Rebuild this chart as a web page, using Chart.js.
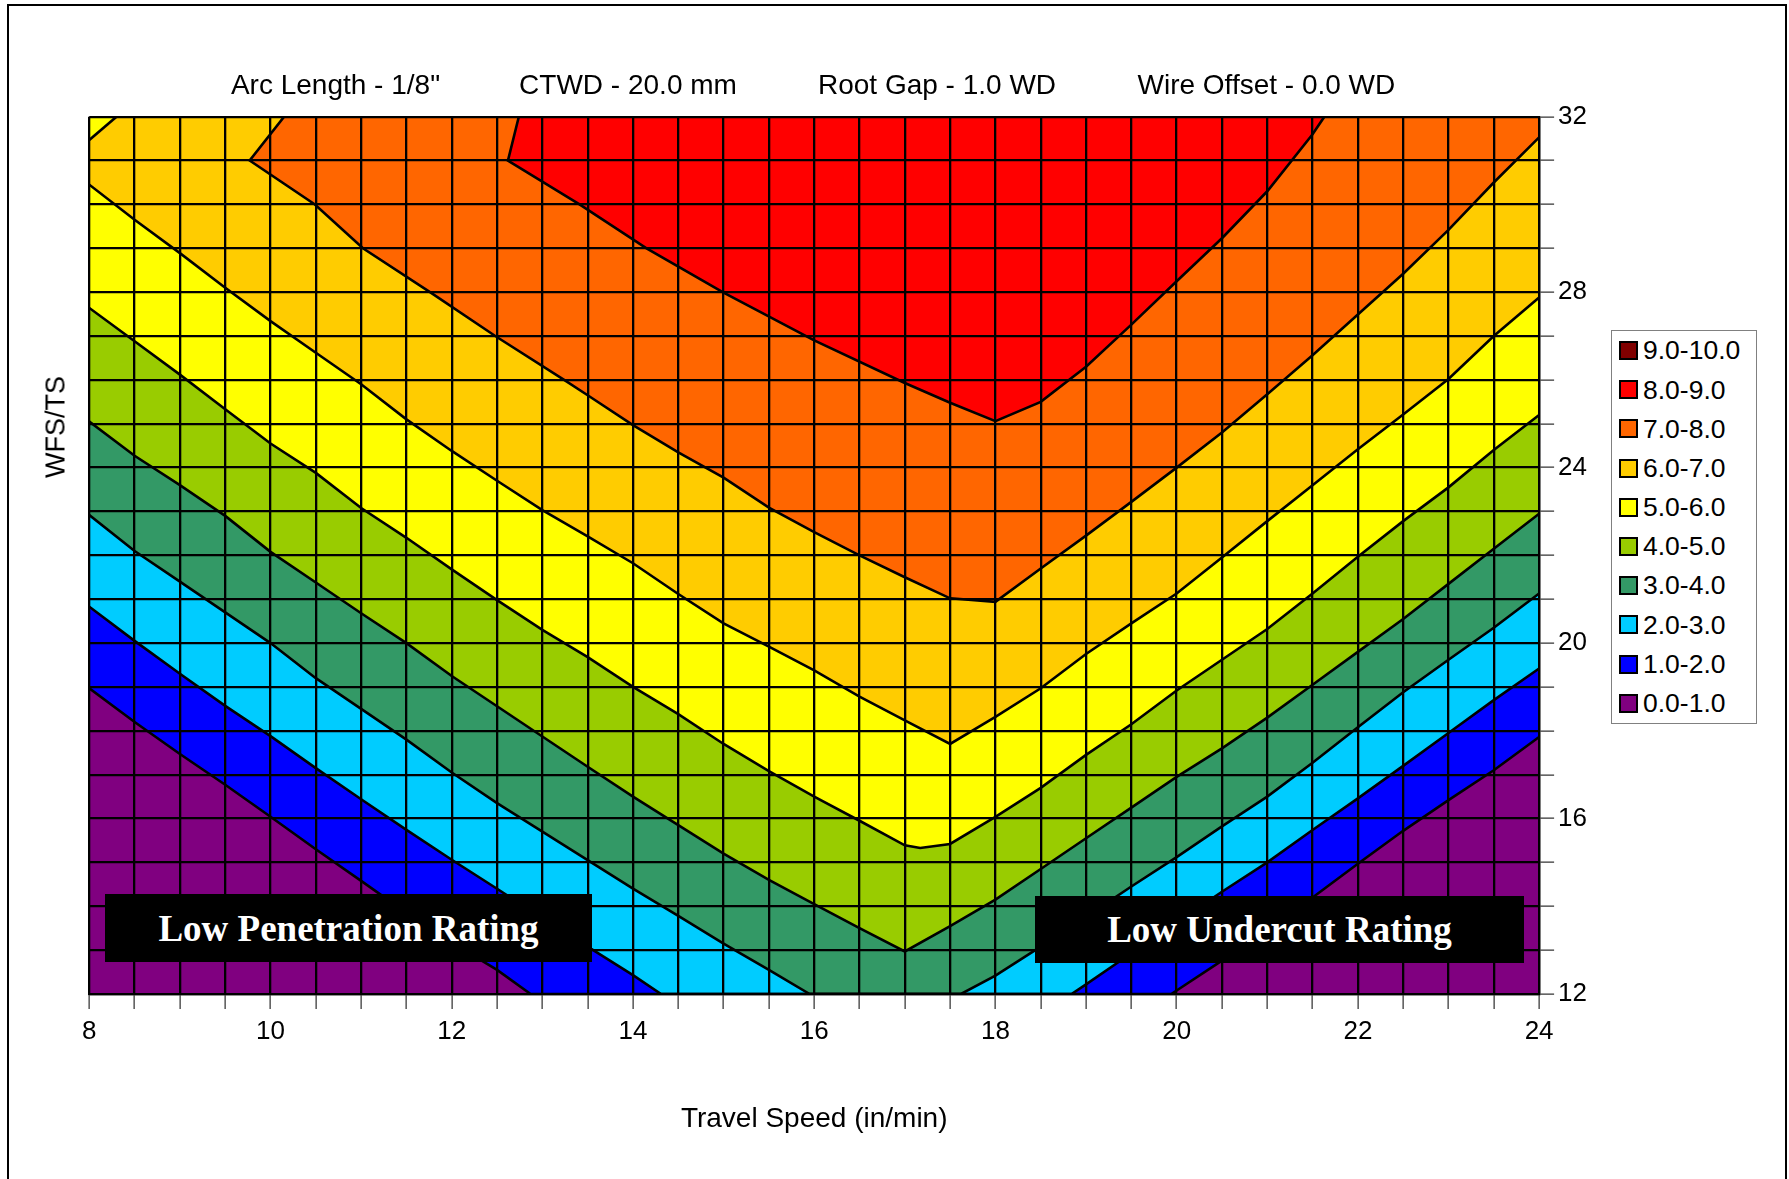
<!DOCTYPE html>
<html>
<head>
<meta charset="utf-8">
<title>Rating contour – Travel Speed vs WFS/TS</title>
<script src="https://cdn.jsdelivr.net/npm/chart.js@4.4.1/dist/chart.umd.min.js"></script>
<style>
  html, body { margin: 0; padding: 0; background: #fff; }
  body { width: 1789px; height: 1179px; position: relative; overflow: hidden;
         font-family: "Liberation Sans", Arial, sans-serif; color: #000; }
  #frame { position: absolute; left: 7px; top: 4px; width: 1780px; height: 1300px;
           border: 2px solid #000; box-sizing: border-box; }
  #chart { position: absolute; left: 0; top: 0; }
  .hdr { position: absolute; top: 84.7px; transform: translate(-50%, -50%);
         font-size: 28px; line-height: 1; white-space: nowrap; }
  #ytitle { position: absolute; left: 56px; top: 427px; font-size: 27px; line-height: 1;
            white-space: nowrap; transform: translate(-50%, -50%) rotate(-90deg); }
  #legend { position: absolute; left: 1611px; top: 330px; width: 146px;
            border: 1px solid #808080; box-sizing: border-box; background: #fff; }
  .lrow { height: 39.2px; display: flex; align-items: center; }
  .lsw { width: 15px; height: 15px; border: 2px solid #000; margin-left: 7px; margin-right: 5px; flex: none; }
  .ltx { font-size: 26.5px; line-height: 1; white-space: nowrap; }
  .note { position: absolute; background: #000; color: #fff; display: flex; align-items: center;
          justify-content: center; font-family: "Liberation Serif", "Times New Roman", serif;
          font-weight: bold; font-size: 37px; line-height: 1; white-space: nowrap; }
</style>
</head>
<body>
<div id="frame"></div>
<canvas id="chart" width="1789" height="1179"></canvas>
<div class="hdr" style="left:335.5px">Arc Length - 1/8"</div>
<div class="hdr" style="left:628px">CTWD - 20.0 mm</div>
<div class="hdr" style="left:937px">Root Gap - 1.0 WD</div>
<div class="hdr" style="left:1266.4px">Wire Offset - 0.0 WD</div>
<div id="ytitle">WFS/TS</div>
<div id="legend"></div>
<div class="note" style="left:105px;top:894px;width:487px;height:68px;">Low Penetration Rating</div>
<div class="note" style="left:1035px;top:896px;width:489px;height:67px;">Low Undercut Rating</div>

<script>
// Axis extents and labelled ticks
const speedMin = 8, speedMax = 24, speedGridStep = 0.5;
const wfsMin = 12, wfsMax = 32, wfsGridStep = 1;
const speedTickLabels = [8, 10, 12, 14, 16, 18, 20, 22, 24];
const wfsTickLabels = [12, 16, 20, 24, 28, 32];

// Rating bands, highest first (legend order)
const bandLabels = ['9.0-10.0', '8.0-9.0', '7.0-8.0', '6.0-7.0', '5.0-6.0',
                    '4.0-5.0', '3.0-4.0', '2.0-3.0', '1.0-2.0', '0.0-1.0'];
const bandColors = ['#800000', '#FF0000', '#FF6600', '#FFCC00', '#FFFF00',
                    '#99CC00', '#339966', '#00CCFF', '#0000FF', '#800080'];

// Contour lines [travel speed, WFS/TS]; the rating is >= level above each line
const contour1 = [[8, 18.97], [8.5, 18.2], [9, 17.47], [9.5, 16.77], [10, 16.04], [10.5, 15.3],
  [11, 14.58], [11.5, 13.85], [12, 13.17], [12.5, 12.55], [12.87, 12], [19.94, 12], [20, 12.08],
  [20.5, 12.76], [21, 13.45], [21.5, 14.2], [22, 14.97], [22.5, 15.72], [23, 16.42], [23.5, 17.1], [24, 17.86]];
const contour2 = [[8, 20.83], [8.5, 20.05], [9, 19.3], [9.5, 18.57], [10, 17.88], [10.5, 17.15],
  [11, 16.44], [11.5, 15.74], [12, 15.06], [12.5, 14.4], [13, 13.73], [13.5, 13.08], [14, 12.43],
  [14.31, 12], [18.84, 12], [19, 12.22], [19.5, 12.93], [20, 13.63], [20.5, 14.33], [21, 15.0],
  [21.5, 15.74], [22, 16.46], [22.5, 17.2], [23, 17.95], [23.5, 18.7], [24, 19.42]];
const contour3 = [[8, 22.92], [8.5, 22.1], [9, 21.4], [9.5, 20.7], [10, 20.0], [10.5, 19.2],
  [11, 18.5], [11.5, 17.8], [12, 17.05], [12.5, 16.35], [13, 15.7], [13.5, 15.05], [14, 14.4],
  [14.5, 13.78], [15, 13.15], [15.5, 12.55], [15.95, 12], [17.62, 12], [18, 12.42], [18.5, 13.08],
  [19, 13.76], [19.5, 14.45], [20, 15.12], [20.5, 15.82], [21, 16.5], [21.5, 17.27], [22, 18.08],
  [22.5, 18.88], [23, 19.62], [23.5, 20.35], [24, 21.13]];
const contour4 = [[8, 25.05], [8.5, 24.27], [9, 23.6], [9.5, 22.9], [10, 22.08], [10.5, 21.38],
  [11, 20.68], [11.5, 20.0], [12, 19.25], [12.5, 18.56], [13, 17.87], [13.5, 17.18], [14, 16.5],
  [14.5, 15.85], [15, 15.2], [15.5, 14.6], [16, 14.05], [16.5, 13.5], [17, 12.97], [17.5, 13.55],
  [18, 14.15], [18.5, 14.85], [19, 15.55], [19.5, 16.25], [20, 16.95], [20.5, 17.6], [21, 18.3],
  [21.5, 19.05], [22, 19.8], [22.5, 20.55], [23, 21.35], [23.5, 22.15], [24, 22.95]];
const contour5 = [[8, 27.64], [8.5, 26.88], [9, 26.12], [9.5, 25.33], [10, 24.55], [10.5, 23.88],
  [11, 23.08], [11.5, 22.4], [12, 21.68], [12.5, 20.98], [13, 20.3], [13.5, 19.68], [14, 19.0],
  [14.5, 18.38], [15, 17.7], [15.5, 17.08], [16, 16.5], [16.5, 15.95], [17, 15.39], [17.17, 15.33],
  [17.5, 15.42], [18, 16.04], [18.5, 16.7], [19, 17.45], [19.5, 18.15], [20, 18.92], [20.5, 19.62],
  [21, 20.32], [21.5, 21.13], [22, 21.97], [22.5, 22.78], [23, 23.55], [23.5, 24.4], [24, 25.2]];
const contour6 = [[8, 30.45], [8.5, 29.65], [9, 28.89], [9.5, 28.1], [10, 27.34], [10.5, 26.62],
  [11, 25.9], [11.5, 25.1], [12, 24.38], [12.5, 23.7], [13, 23.03], [13.5, 22.43], [14, 21.82],
  [14.5, 21.12], [15, 20.45], [15.5, 19.92], [16, 19.38], [16.5, 18.78], [17, 18.24], [17.5, 17.7],
  [18, 18.32], [18.5, 18.97], [19, 19.75], [19.5, 20.45], [20, 21.13], [20.5, 21.95], [21, 22.78],
  [21.5, 23.6], [22, 24.42], [22.5, 25.21], [23, 26.02], [23.5, 27.0], [24, 27.88]];
// small pocket in the top-left corner where the rating falls back under 6
const contour6Corner = [[8, 31.47], [8.3, 32]];
const contour7 = [[10.15, 32], [9.77, 31], [10.49, 30], [11.02, 29], [11.76, 28], [12.48, 27],
  [13.24, 26], [13.5, 25.65], [14, 24.97], [14.5, 24.35], [15, 23.77], [15.5, 23.09], [16, 22.53],
  [16.5, 22.0], [17, 21.5], [17.5, 21.02], [18, 20.94], [18.5, 21.7], [19, 22.45], [19.5, 23.22],
  [20, 24.0], [20.5, 24.8], [21, 25.67], [21.5, 26.56], [22, 27.49], [22.5, 28.42], [23, 29.42],
  [23.5, 30.5], [24, 31.53]];
const contour8 = [[12.74, 32], [12.62, 31], [13.41, 30], [14.15, 29], [15.0, 27.99], [16.0, 26.9],
  [17.0, 25.93], [17.5, 25.48], [18.0, 25.06], [18.5, 25.5], [19.0, 26.3], [19.5, 27.26],
  [20.0, 28.25], [20.5, 29.23], [21.0, 30.3], [21.5, 31.6], [21.63, 32]];

// Filled regions, painted from the lowest band upwards
const regions = [
  { pts: contour1, band: '1.0-2.0' },
  { pts: contour2, band: '2.0-3.0' },
  { pts: contour3, band: '3.0-4.0' },
  { pts: contour4, band: '4.0-5.0' },
  { pts: contour5, band: '5.0-6.0' },
  { pts: contour6, band: '6.0-7.0' },
  { pts: contour6Corner, band: '5.0-6.0' },
  { pts: contour7, band: '7.0-8.0' },
  { pts: contour8, band: '8.0-9.0' }
];

const toXY = pts => pts.map(([x, y]) => ({ x, y }));
// close a contour along the top edge of the plot
const closeToTop = pts => pts.concat([[pts[pts.length - 1][0], wfsMax], [pts[0][0], wfsMax]]);

const fillSets = regions.map((r, i) => ({
  data: toXY(closeToTop(r.pts)),
  showLine: true,
  fill: 'shape',
  backgroundColor: bandColors[bandLabels.indexOf(r.band)],
  borderWidth: 0,
  pointRadius: 0,
  tension: 0,
  order: 100 - i
}));
const lineSets = regions.map(r => ({
  data: toXY(r.pts),
  showLine: true,
  fill: false,
  borderColor: '#000',
  borderWidth: 2.6,
  pointRadius: 0,
  tension: 0,
  order: 0
}));

// Legend
const legendEl = document.getElementById('legend');
bandLabels.forEach((lab, i) => {
  const row = document.createElement('div');
  row.className = 'lrow';
  row.innerHTML = '<span class="lsw" style="background:' + bandColors[i] + '"></span><span class="ltx">' + lab + '</span>';
  legendEl.appendChild(row);
});

const plotBackground = {
  id: 'plotBackground',
  beforeDatasetsDraw(chart) {
    const { ctx, chartArea: a } = chart;
    ctx.save();
    ctx.fillStyle = bandColors[bandLabels.indexOf('0.0-1.0')];
    ctx.fillRect(a.left, a.top, a.right - a.left, a.bottom - a.top);
    ctx.restore();
  }
};

const tickFont = { family: "'Liberation Sans', Arial, sans-serif", size: 26 };

new Chart(document.getElementById('chart'), {
  type: 'scatter',
  data: { datasets: fillSets.concat(lineSets) },
  plugins: [plotBackground],
  options: {
    responsive: false,
    devicePixelRatio: 1,
    animation: false,
    events: [],
    layout: { padding: { left: 89.3, top: 116.7, right: 169.9, bottom: 0 } },
    plugins: { legend: { display: false }, tooltip: { enabled: false } },
    scales: {
      x: {
        type: 'linear', position: 'bottom', min: speedMin, max: speedMax,
        afterFit: s => { s.height = 185; },
        ticks: {
          stepSize: speedGridStep, autoSkip: false, maxRotation: 0, maxTicksLimit: 200,
          padding: 7, color: '#000', font: tickFont,
          callback: v => (speedTickLabels.includes(v) ? String(v) : '')
        },
        grid: { z: 1, color: '#000', lineWidth: 2.3, drawTicks: true, tickLength: 15, tickColor: '#555', tickWidth: 1.5 },
        border: { z: 1, color: '#000', width: 2.3 },
        title: {
          display: true, text: 'Travel Speed (in/min)', color: '#000',
          font: { family: "'Liberation Sans', Arial, sans-serif", size: 28 },
          padding: { top: 0, bottom: 42.7 }
        }
      },
      y: {
        type: 'linear', position: 'right', min: wfsMin, max: wfsMax,
        afterFit: s => { s.width = 80; },
        ticks: {
          stepSize: wfsGridStep, autoSkip: false, maxTicksLimit: 200,
          padding: 4, color: '#000', font: tickFont,
          callback: v => (wfsTickLabels.includes(v) ? String(v) : '')
        },
        grid: { z: 1, color: '#000', lineWidth: 2.3, drawTicks: true, tickLength: 15, tickColor: '#555', tickWidth: 1.5 },
        border: { z: 1, color: '#000', width: 2.3 }
      }
    }
  }
});
</script>
</body>
</html>
